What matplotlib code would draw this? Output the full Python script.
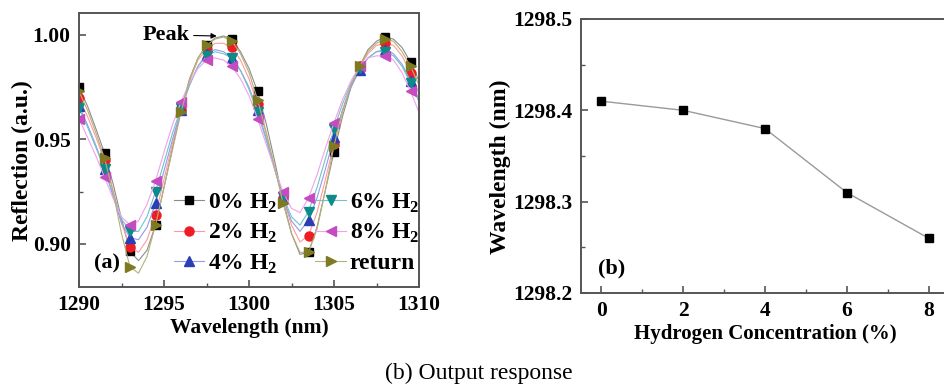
import matplotlib
matplotlib.use("Agg")
import matplotlib.pyplot as plt
from matplotlib.ticker import MultipleLocator, FormatStrFormatter

plt.rcParams['font.family'] = ['Liberation Serif', 'DejaVu Serif']
plt.rcParams['font.weight'] = 'bold'
plt.rcParams['mathtext.fontset'] = 'custom'
plt.rcParams['mathtext.rm'] = 'Liberation Serif:bold'
plt.rcParams['mathtext.bf'] = 'Liberation Serif:bold'

# ---------------- data: panel (a) ----------------
wl = [1290.0 + 0.5 * i for i in range(41)]

r0 = [0.975, 0.966, 0.955, 0.9435, 0.929, 0.912, 0.8965, 0.892, 0.897, 0.909,
      0.927, 0.946, 0.964, 0.979, 0.989, 0.995, 0.9985, 0.9995, 0.998, 0.992,
      0.984, 0.973, 0.958, 0.940, 0.921, 0.905, 0.895, 0.896, 0.908, 0.926,
      0.944, 0.961, 0.975, 0.985, 0.993, 0.997, 0.999, 0.998, 0.994, 0.987, 0.978]
r2 = [0.970, 0.961, 0.951, 0.940, 0.926, 0.910, 0.8986, 0.896, 0.902, 0.914,
      0.931, 0.948, 0.964, 0.978, 0.988, 0.993, 0.996, 0.996, 0.994, 0.988,
      0.979, 0.967, 0.953, 0.937, 0.922, 0.909, 0.901, 0.904, 0.915, 0.931,
      0.948, 0.963, 0.976, 0.985, 0.991, 0.995, 0.996, 0.995, 0.990, 0.982, 0.972]
r4 = [0.966, 0.957, 0.947, 0.936, 0.923, 0.910, 0.903, 0.902, 0.908, 0.9195,
      0.935, 0.950, 0.964, 0.976, 0.985, 0.991, 0.993, 0.992, 0.989, 0.983,
      0.975, 0.964, 0.951, 0.936, 0.922, 0.911, 0.906, 0.9115, 0.922, 0.936,
      0.951, 0.964, 0.975, 0.983, 0.989, 0.992, 0.993, 0.991, 0.986, 0.978, 0.969]
r6 = [0.965, 0.956, 0.946, 0.936, 0.924, 0.912, 0.906, 0.906, 0.913, 0.925,
      0.939, 0.953, 0.965, 0.976, 0.985, 0.990, 0.992, 0.991, 0.989, 0.983,
      0.974, 0.963, 0.950, 0.936, 0.9226, 0.913, 0.909, 0.9155, 0.927, 0.941,
      0.955, 0.967, 0.977, 0.984, 0.989, 0.992, 0.992, 0.990, 0.985, 0.977, 0.968]
r8 = [0.960, 0.951, 0.942, 0.932, 0.922, 0.913, 0.909, 0.911, 0.919, 0.930,
      0.944, 0.957, 0.968, 0.977, 0.984, 0.988, 0.989, 0.988, 0.985, 0.979,
      0.971, 0.960, 0.948, 0.936, 0.925, 0.917, 0.915, 0.922, 0.933, 0.946,
      0.958, 0.969, 0.978, 0.985, 0.989, 0.990, 0.990, 0.988, 0.982, 0.973, 0.963]
rret = [0.973, 0.964, 0.953, 0.941, 0.925, 0.905, 0.889, 0.886, 0.894, 0.909,
        0.927, 0.945, 0.963, 0.978, 0.989, 0.995, 0.998, 0.999, 0.997, 0.991,
        0.982, 0.969, 0.954, 0.937, 0.9196, 0.905, 0.896, 0.896, 0.907, 0.926,
        0.947, 0.964, 0.976, 0.985, 0.992, 0.996, 0.998, 0.997, 0.992, 0.985, 0.976]

labels_a = ['0% H$_\\mathbf{2}$', '2% H$_\\mathbf{2}$', '4% H$_\\mathbf{2}$',
            '6% H$_\\mathbf{2}$', '8% H$_\\mathbf{2}$', 'return']

# ---------------- data: panel (b) ----------------
conc = [0, 2, 4, 6, 8]
peak_wl = [1298.41, 1298.40, 1298.38, 1298.31, 1298.26]

# ---------------- styles ----------------
series = [r0, r2, r4, r6, r8, rret]
mcolors = ['#000000', '#ee1c24', '#2a3fb5', '#0d8a8a', '#c54bc0', '#7d7a22']
lcolors = ['#8c8c8c', '#ff9a9a', '#8f9cf0', '#70c4c4', '#f2a0ee', '#b4b278']
markers = ['s', 'o', '^', 'v', '<', '>']
msizes = [6, 6.5, 7.5, 7.5, 7.5, 7.5]

spine_c = '#555555'

fig = plt.figure(figsize=(9.44, 3.92), dpi=100)

def style_axes(ax):
    for s in ax.spines.values():
        s.set_color(spine_c)
        s.set_linewidth(1.4)
    ax.tick_params(which='both', direction='in', colors=spine_c, labelcolor='black',
                   labelsize=15.5, pad=6)
    ax.tick_params(which='major', length=5, width=1.2)
    ax.tick_params(which='minor', length=3, width=1.0)

# ---------------- panel (a) ----------------
axa = fig.add_axes([79 / 944, 1 - 287 / 392, 340 / 944, 274 / 392])
handles = []
for y, mc, lc, mk, ms, lab in zip(series, mcolors, lcolors, markers, msizes, labels_a):
    h, = axa.plot(wl, y, color=lc, lw=0.8, marker=mk, ms=ms, mfc=mc, mec=mc,
                  markevery=3, label=lab)
    handles.append(h)
axa.set_xlim(1290, 1310)
axa.set_ylim(0.8794, 1.0105)
axa.xaxis.set_major_locator(MultipleLocator(5))
axa.xaxis.set_minor_locator(MultipleLocator(2.5))
axa.yaxis.set_major_locator(MultipleLocator(0.05))
axa.yaxis.set_minor_locator(MultipleLocator(0.025))
axa.yaxis.set_major_formatter(FormatStrFormatter('%.2f'))
style_axes(axa)
axa.set_xlabel('Wavelength (nm)', fontsize=15.5, fontweight='bold', labelpad=2)
axa.set_ylabel('Reflection (a.u.)', fontsize=17, fontweight='bold')
axa.yaxis.set_label_coords(-0.135, 0.46)
leg = axa.legend(handles=handles, ncol=2, loc='lower left', bbox_to_anchor=(0.23, -0.02),
                 frameon=False, fontsize=17, handlelength=1.3, handletextpad=0.15,
                 columnspacing=1.6, labelspacing=0.31, borderpad=0.2)
axa.text(0.045, 0.085, '(a)', transform=axa.transAxes, fontsize=16, fontweight='bold',
         va='center', ha='left')
axa.annotate('Peak', xy=(1298.1, 0.9995), xytext=(1296.5, 1.0),
             fontsize=16, fontweight='bold', ha='right', va='center',
             arrowprops=dict(arrowstyle='-|>', color='black', lw=0.8,
                             mutation_scale=8, shrinkA=1, shrinkB=0))

# ---------------- panel (b) ----------------
axb = fig.add_axes([581 / 944, 1 - 293 / 392, 368 / 944, 274 / 392])
axb.plot(conc, peak_wl, color='#9a9a9a', lw=1.0, marker='s', ms=6,
         mfc='black', mec='black')
axb.set_xlim(-0.5, 8.5)
axb.set_ylim(1298.2, 1298.5)
axb.xaxis.set_major_locator(MultipleLocator(2))
axb.xaxis.set_minor_locator(MultipleLocator(1))
axb.yaxis.set_major_locator(MultipleLocator(0.1))
axb.yaxis.set_minor_locator(MultipleLocator(0.05))
axb.yaxis.set_major_formatter(FormatStrFormatter('%.1f'))
style_axes(axb)
axb.set_xlabel('Hydrogen Concentration (%)', fontsize=15, fontweight='bold', labelpad=2)
axb.set_ylabel('Wavelength (nm)', fontsize=17, fontweight='bold')
axb.yaxis.set_label_coords(-0.19, 0.46)
axb.text(0.045, 0.09, '(b)', transform=axb.transAxes, fontsize=16, fontweight='bold',
         va='center', ha='left')

fig.text(479 / 944, 1 - 373 / 392, '(b) Output response', fontsize=17,
         fontweight='normal', ha='center', va='center')

fig.savefig('out.png', dpi=100)
